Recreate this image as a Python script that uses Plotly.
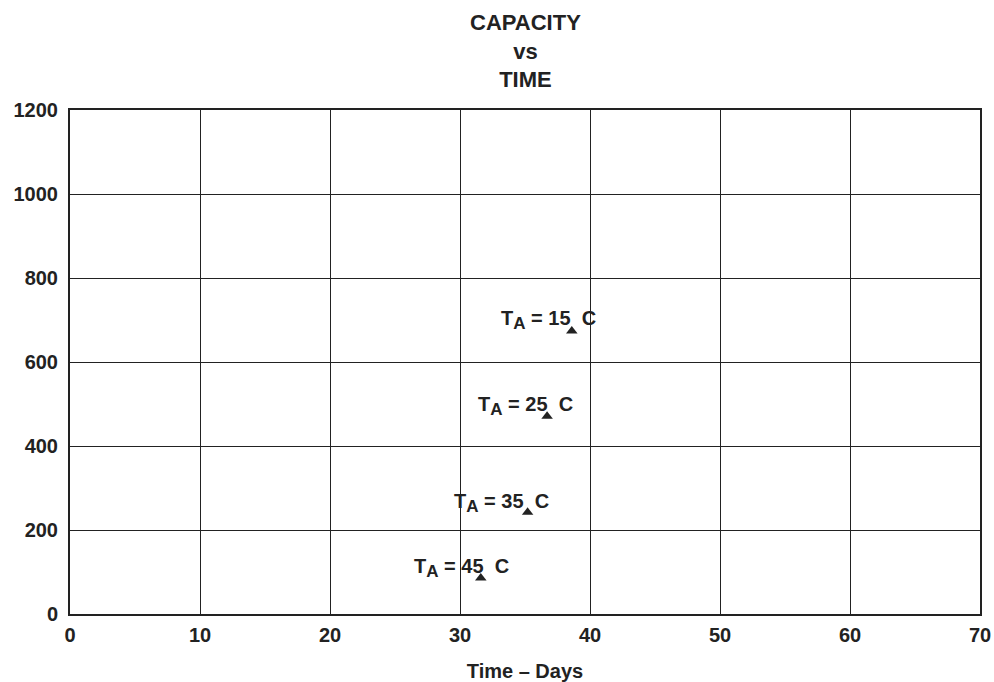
import plotly.graph_objects as go

# Data
label_temps = ["15", "25", "35", "45"]
label_days = [36.8, 35.0, 33.2, 30.1]
label_caps = [700, 495, 265, 110]
mark_days = [38.6, 36.7, 35.2, 31.6]
mark_caps = [674, 471, 242, 86]
x_ticks = [0, 10, 20, 30, 40, 50, 60, 70]
y_ticks = [0, 200, 400, 600, 800, 1000, 1200]

FONT = "Liberation Sans, Arial, sans-serif"
INK = "#222"

fig = go.Figure()
fig.add_trace(go.Scatter(
    x=mark_days, y=mark_caps, mode="markers",
    marker=dict(symbol="triangle-up", size=10, color=INK),
    showlegend=False, hoverinfo="skip"))

annots = []
for t, xd, yc in zip(label_temps, label_days, label_caps):
    annots.append(dict(
        x=xd, y=yc, showarrow=False,
        text="T<sub><span style='font-size:17px'>A</span></sub> = " + t + "&nbsp;&nbsp;C",
        font=dict(family=FONT, size=20, color=INK, weight="bold")))

annots.append(dict(
    xref="paper", yref="paper", x=0.5, y=1 + 110 / 504, yshift=-8,
    xanchor="center", yanchor="top", showarrow=False,
    text="CAPACITY<br>vs<br>TIME",
    font=dict(family=FONT, size=22, color=INK, weight="bold")))

fig.update_layout(
    width=994, height=682,
    margin=dict(l=70, r=14, t=110, b=68, autoexpand=False),
    paper_bgcolor="white", plot_bgcolor="white",
    showlegend=False,
    font=dict(family=FONT, color=INK),
    annotations=annots,
)

fig.update_xaxes(
    range=[0, 70], tickvals=x_ticks, ticktext=[str(v) for v in x_ticks],
    showgrid=True, gridcolor=INK, gridwidth=1,
    showline=True, linecolor=INK, linewidth=2, mirror=True,
    ticks="", zeroline=False, automargin=False, ticklabelstandoff=2,
    tickfont=dict(family=FONT, size=20, color=INK, weight="bold"),
    title=dict(text="Time – Days", standoff=20,
               font=dict(family=FONT, size=20, color=INK, weight="bold")),
)
fig.update_yaxes(
    range=[0, 1200], tickvals=y_ticks, ticktext=[str(v) for v in y_ticks],
    showgrid=True, gridcolor=INK, gridwidth=1,
    showline=True, linecolor=INK, linewidth=2, mirror=True,
    ticks="", zeroline=False, automargin=False, ticklabelstandoff=6,
    tickfont=dict(family=FONT, size=20, color=INK, weight="bold"),
)

fig.write_html("out.html",
               config={"displayModeBar": False},
               post_script="document.body.style.margin='0';document.body.style.padding='0';")
